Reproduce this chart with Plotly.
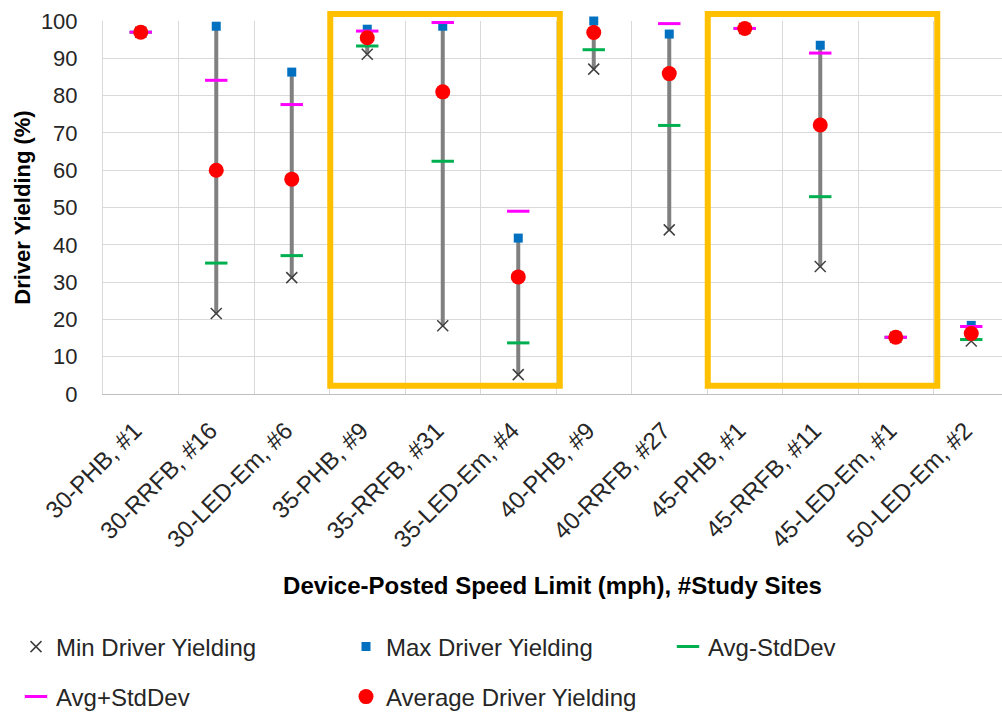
import plotly.graph_objects as go

# Device / posted speed limit groups with number of study sites
categories = ["30-PHB, #1", "30-RRFB, #16", "30-LED-Em, #6", "35-PHB, #9",
              "35-RRFB, #31", "35-LED-Em, #4", "40-PHB, #9", "40-RRFB, #27",
              "45-PHB, #1", "45-RRFB, #11", "45-LED-Em, #1", "50-LED-Em, #2"]

# Driver yielding statistics (%)
min_yield = [97.0, 21.6, 31.2, 91.1, 18.3, 5.2, 87.1, 44.0, 98.0, 34.2, 15.2, 14.2]
max_yield = [97.0, 98.6, 86.3, 97.8, 98.6, 41.8, 100.0, 96.5, 98.0, 93.5, 15.2, 18.4]
avg_minus_sd = [97.0, 35.1, 37.1, 93.3, 62.4, 13.7, 92.3, 72.0, 98.0, 52.9, 15.2, 14.6]
avg_plus_sd = [97.0, 84.1, 77.6, 97.3, 99.6, 49.0, None, 99.3, 98.0, 91.4, 15.2, 18.1]
avg_yield = [97.0, 60.0, 57.6, 95.5, 81.0, 31.4, 96.9, 85.9, 98.0, 72.1, 15.2, 16.2]

# Groups highlighted with a box (first and last category of each group)
highlight_groups = [("35-PHB, #9", "35-LED-Em, #4"), ("45-PHB, #1", "45-LED-Em, #1")]

FONT = "Liberation Sans, Arial, sans-serif"
TEXT = "#262626"

fig = go.Figure()

# High-low line from min to max for each category
hl_x, hl_y = [], []
for c, lo, hi in zip(categories, min_yield, max_yield):
    hl_x += [c, c, c]
    hl_y += [lo, hi, None]
fig.add_trace(go.Scatter(x=hl_x, y=hl_y, mode="lines",
                         line=dict(color="#808080", width=4),
                         showlegend=False, hoverinfo="skip"))

fig.add_trace(go.Scatter(x=categories, y=min_yield, mode="markers", name="Min Driver Yielding",
                         marker=dict(symbol="x-thin", size=11, color="#404040",
                                     line=dict(color="#404040", width=1.5)),
                         cliponaxis=False, legend="legend"))
fig.add_trace(go.Scatter(x=categories, y=max_yield, mode="markers", name="Max Driver Yielding",
                         marker=dict(symbol="square", size=9, color="#0070C0"),
                         cliponaxis=False, legend="legend"))
fig.add_trace(go.Scatter(x=categories, y=avg_minus_sd, mode="markers", name="Avg-StdDev",
                         marker=dict(symbol="line-ew", size=16, color="#00B050",
                                     line=dict(color="#00B050", width=3)),
                         cliponaxis=False, legend="legend3"))
fig.add_trace(go.Scatter(x=categories, y=avg_plus_sd, mode="markers", name="Avg+StdDev",
                         marker=dict(symbol="line-ew", size=16, color="#FF00FF",
                                     line=dict(color="#FF00FF", width=3)),
                         cliponaxis=False, legend="legend2"))
fig.add_trace(go.Scatter(x=categories, y=avg_yield, mode="markers", name="Average Driver Yielding",
                         marker=dict(symbol="circle", size=15, color="#FF0000"),
                         cliponaxis=False, legend="legend2"))

# Highlight boxes around selected groups
for first, last in highlight_groups:
    i0 = categories.index(first)
    i1 = categories.index(last)
    fig.add_shape(type="rect", xref="x", yref="paper",
                  x0=i0 - 0.49, x1=i1 + 0.55, y0=0.022, y1=1.019,
                  line=dict(color="#FFC000", width=6), fillcolor="rgba(0,0,0,0)",
                  layer="above")

legend_common = dict(orientation="h", xref="container", yref="container",
                     xanchor="left", yanchor="middle",
                     font=dict(family=FONT, size=24, color=TEXT),
                     bgcolor="rgba(0,0,0,0)", borderwidth=0,
                     entrywidth=285, entrywidthmode="pixels",
                     traceorder="normal", itemclick=False)

fig.update_layout(
    width=1002, height=714,
    margin=dict(l=103, r=0, t=21, b=320),
    paper_bgcolor="white", plot_bgcolor="white",
    font=dict(family=FONT, color=TEXT),
    showlegend=True,
    legend=dict(x=16 / 1002, y=1 - 647 / 714, **legend_common),
    legend2=dict(x=16 / 1002, y=1 - 697 / 714, **legend_common),
    legend3=dict(x=668 / 1002, y=1 - 647 / 714, **legend_common),
    xaxis=dict(
        type="category", categoryorder="array", categoryarray=categories,
        range=[-0.5, -0.5 + 899 / 75.5],
        tickson="boundaries", showgrid=True, gridcolor="#d9d9d9", gridwidth=1,
        ticks="", tickangle=-45, ticklabelstandoff=12, ticklabelshift=-6,
        tickfont=dict(family=FONT, size=24, color=TEXT),
        showline=True, linecolor="#bfbfbf", linewidth=1,
        title=dict(text="<b>Device-Posted Speed Limit (mph), #Study Sites</b>",
                   font=dict(family=FONT, size=24, color="#000000"), standoff=25),
        automargin=False,
    ),
    yaxis=dict(
        range=[0, 100], dtick=10, showgrid=True, gridcolor="#d9d9d9", gridwidth=1,
        zeroline=False, showline=True, linecolor="#d9d9d9", linewidth=1,
        ticks="", ticklabelstandoff=20,
        tickfont=dict(family=FONT, size=22, color=TEXT),
        title=dict(text="<b>Driver Yielding (%)</b>",
                   font=dict(family=FONT, size=22, color="#000000"), standoff=4),
        automargin=False,
    ),
)

fig.write_html("out.html")
